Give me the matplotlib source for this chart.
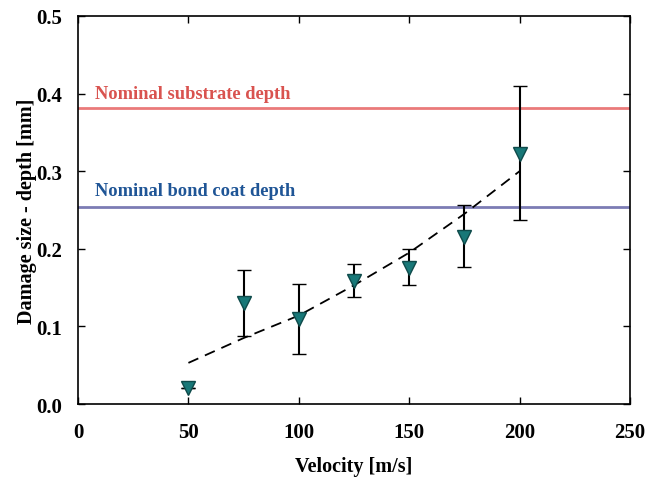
import matplotlib
matplotlib.use("Agg")
import matplotlib.pyplot as plt
import numpy as np

# measured points
velocity = [50, 75, 100, 125, 150, 175, 200]
depth = [0.020, 0.130, 0.109, 0.158, 0.175, 0.215, 0.322]
err_low = [0.0, 0.042, 0.045, 0.020, 0.022, 0.038, 0.085]
err_high = [0.0, 0.043, 0.045, 0.022, 0.025, 0.041, 0.088]

# fitted trend (dashed)
fit_v = [50, 75, 100, 125, 150, 175, 200]
fit_d = [0.053, 0.085, 0.114, 0.153, 0.195, 0.245, 0.300]

substrate_depth = 0.381
bondcoat_depth = 0.254

plt.rcParams['font.family'] = ['Liberation Serif', 'DejaVu Serif']
plt.rcParams['font.weight'] = 'bold'

fig = plt.figure(figsize=(6.47, 4.81), dpi=100)
ax = fig.add_axes([0.1206, 0.158, 0.8531, 0.8067])

ax.axhline(substrate_depth, color='#ea7a7a', lw=2, zorder=1)
ax.axhline(bondcoat_depth, color='#7c7cb4', lw=2, zorder=1)
ax.text(7.5, substrate_depth + 0.008, 'Nominal substrate depth', color='#d9534f',
        fontsize=13.3, fontweight='bold', va='bottom')
ax.text(7.5, bondcoat_depth + 0.010, 'Nominal bond coat depth', color='#1f5596',
        fontsize=13.3, fontweight='bold', va='bottom')

ax.plot(fit_v, fit_d, ls=(0, (6, 4)), color='black', lw=1.3, zorder=2)
ax.errorbar(velocity, depth, yerr=[err_low, err_high], fmt='v', color='black',
            ecolor='black', elinewidth=1.5, capsize=5, capthick=1.5,
            markersize=10, markerfacecolor='#187878', markeredgecolor='#0e4a4a',
            markeredgewidth=1, zorder=3)

ax.set_xlim(0, 250)
ax.set_ylim(0, 0.5)
ax.set_xticks([0, 50, 100, 150, 200, 250])
ax.set_yticks([0.0, 0.1, 0.2, 0.3, 0.4, 0.5])
ax.set_yticklabels(['0.0', '0.1', '0.2', '0.3', '0.4', '0.5'])
ax.tick_params(direction='in', top=True, right=True, length=5, width=1,
               labelsize=15)
ax.tick_params(axis='x', pad=13)
ax.tick_params(axis='y', pad=11.5)
for s in ax.spines.values():
    s.set_linewidth(1.2)

ax.set_xlabel('Velocity [m/s]', fontsize=14.5, fontweight='bold', labelpad=10)
ax.set_ylabel('Damage size - depth [mm]', fontsize=14.5, fontweight='bold', labelpad=-0.5)

fig.savefig('out.png', dpi=100)
